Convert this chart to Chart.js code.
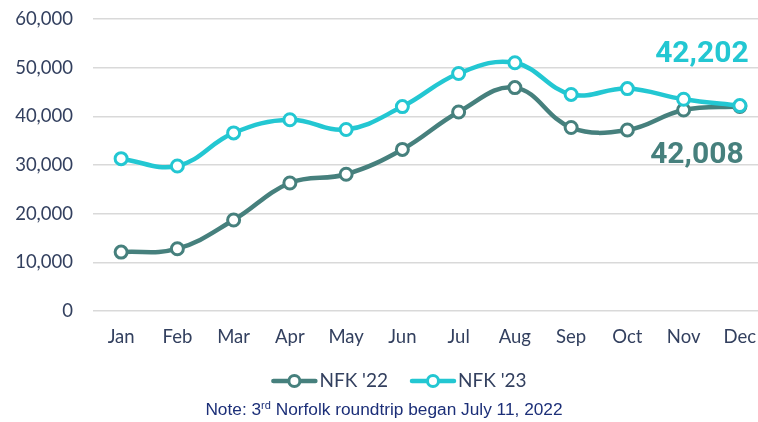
<!DOCTYPE html>
<html><head><meta charset="utf-8">
<script src="https://cdn.jsdelivr.net/npm/chart.js@4"></script>
<style>
html,body{margin:0;padding:0;background:#fff;overflow:hidden;width:758px;height:422px}
#wrap{position:relative;width:777px;height:422px}
#c{display:block;width:777px;height:422px}
#note{position:absolute;left:0;width:768px;top:399px;line-height:20px;text-align:center;font-family:"Liberation Sans",Arial,sans-serif;font-size:17.3px;color:#1c2f78;white-space:nowrap}
#note sup{font-size:11px;vertical-align:6px;line-height:0}
</style></head>
<body>
<div id="wrap"><canvas id="c" width="777" height="422"></canvas>
<div id="note">Note: 3<sup>rd</sup> Norfolk roundtrip began July 11, 2022</div></div>
<script>
const months = ['Jan','Feb','Mar','Apr','May','Jun','Jul','Aug','Sep','Oct','Nov','Dec'];
const nfk22 = [12100, 12800, 18700, 26300, 28100, 33200, 40900, 45900, 37700, 37200, 41300, 42008];
const nfk23 = [31300, 29800, 36600, 39300, 37300, 42000, 48800, 51000, 44500, 45700, 43500, 42202];
const seriesNames = ["NFK '22", "NFK '23"];
const seriesColors = ['#46807d', '#23c7d2'];
const tickFont = { family: 'Lato', size: 18.5 };
const tickColor = '#33405f';

const endLabels = {
  id: 'endLabels',
  afterDatasetsDraw(chart) {
    const ctx = chart.ctx;
    const fmt = v => v.toLocaleString('en-US');
    ctx.save();
    ctx.font = 'bold 30px Roboto';
    ctx.textAlign = 'center';
    ctx.textBaseline = 'alphabetic';
    const m1 = chart.getDatasetMeta(1).data[11];
    ctx.fillStyle = seriesColors[1];
    ctx.fillText(fmt(nfk23[11]), m1.x - 38, m1.y - 44);
    const m0 = chart.getDatasetMeta(0).data[11];
    ctx.fillStyle = seriesColors[0];
    ctx.fillText(fmt(nfk22[11]), m0.x - 43, m0.y + 56);
    ctx.restore();
  }
};

const customLegend = {
  id: 'customLegend',
  afterDraw(chart) {
    const ctx = chart.ctx;
    ctx.save();
    ctx.font = '19px Lato';
    ctx.textBaseline = 'middle';
    const lineW = 46, gap = 2, itemGap = 22, y = 381;
    const widths = seriesNames.map(n => lineW + gap + ctx.measureText(n).width);
    const total = widths[0] + widths[1] + itemGap;
    let x = 399 - total / 2;
    seriesNames.forEach((n, i) => {
      ctx.strokeStyle = seriesColors[i];
      ctx.lineWidth = 4.5;
      ctx.lineCap = 'round';
      ctx.beginPath(); ctx.moveTo(x + 2, y); ctx.lineTo(x + lineW - 2, y); ctx.stroke();
      ctx.beginPath(); ctx.arc(x + lineW / 2, y, 5.5, 0, Math.PI * 2);
      ctx.fillStyle = '#fff'; ctx.fill();
      ctx.lineWidth = 3; ctx.stroke();
      ctx.fillStyle = tickColor;
      ctx.textAlign = 'left';
      ctx.fillText(n, x + lineW + gap, y);
      x += widths[i] + itemGap;
    });
    ctx.restore();
  }
};

new Chart(document.getElementById('c'), {
  type: 'line',
  data: {
    labels: months,
    datasets: [
      { label: seriesNames[0], data: nfk22, borderColor: seriesColors[0], order: 2 },
      { label: seriesNames[1], data: nfk23, borderColor: seriesColors[1], order: 1 }
    ].map(d => Object.assign(d, {
      borderWidth: 4.5, tension: 0.4, pointRadius: 6, pointBorderWidth: 3,
      pointBackgroundColor: '#fff', pointBorderColor: d.borderColor, fill: false
    }))
  },
  options: {
    responsive: false, animation: false,
    layout: { padding: { top: 19, left: 0, right: 0, bottom: 70 } },
    plugins: { legend: { display: false }, tooltip: { enabled: false } },
    scales: {
      x: {
        offset: true,
        afterFit(s) { s.height = 41; s.paddingLeft = 0; s.paddingRight = 0; },
        grid: { display: false },
        border: { display: false },
        ticks: { color: tickColor, font: tickFont, padding: 7 }
      },
      y: {
        min: 0, max: 60000,
        afterFit(s) { s.width = 93; s.paddingTop = 0; s.paddingBottom = 0; },
        grid: { color: '#d9d9d9', lineWidth: 1.5, drawTicks: false },
        border: { display: false },
        ticks: { stepSize: 10000, color: tickColor, font: tickFont, padding: 20,
          callback: v => v.toLocaleString('en-US') }
      }
    }
  },
  plugins: [endLabels, customLegend]
});
</script>
</body></html>
